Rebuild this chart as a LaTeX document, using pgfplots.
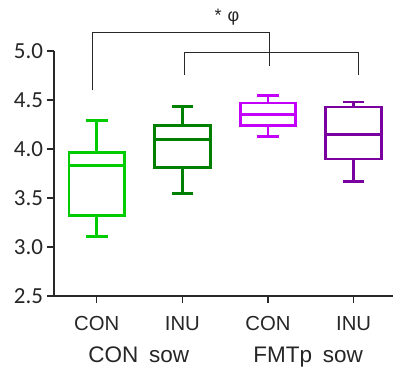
\documentclass[border=0pt]{standalone}
\usepackage{fontspec}
\setmainfont{Carlito}
\newfontfamily\arialf{Liberation Sans}
\usepackage{pgfplots}
\pgfplotsset{compat=1.18}
\definecolor{cLG}{RGB}{0,204,0}
\definecolor{cDG}{RGB}{0,128,0}
\definecolor{cMG}{RGB}{196,0,250}
\definecolor{cPU}{RGB}{122,0,160}
\definecolor{axc}{RGB}{40,40,40}
\begin{document}
\begin{tikzpicture}
\begin{axis}[
  scale only axis,
  width=339pt, height=245pt,
  xmin=-0.5, xmax=3.46,
  ymin=2.5, ymax=5.0,
  axis lines=left,
  axis line style={-, line width=1.3pt, axc},
  tick style={line width=1.3pt, axc},
  tick align=outside,
  major tick length=7pt,
  xtick={0,1,2,3},
  xticklabels={CON,INU,CON,INU},
  ytick={2.5,3.0,3.5,4.0,4.5,5.0},
  yticklabel style={/pgf/number format/fixed, /pgf/number format/fixed zerofill, /pgf/number format/precision=1, /pgf/number format/assume math mode=true, font=\fontsize{23}{27}\selectfont, text=black!85, anchor=east, inner sep=0pt, xshift=-3.7pt},
  xticklabel style={font=\arialf\fontsize{20.3}{24}\selectfont, text=black!85, anchor=base, inner sep=0pt, yshift=-27pt},
  clip=false,
  unbounded coords=jump,
  every axis plot/.append style={line width=2.7pt, line join=miter, line cap=rect, mark=none},
]
% box 1: CON / CON sow  (lw 3.11, q1 3.32, med 3.83, q3 3.965, uw 4.29)
\addplot[cLG] coordinates {(-0.325,3.32)(0.325,3.32)(0.325,3.965)(-0.325,3.965)(-0.325,3.32) (0,nan)
 (-0.325,3.83)(0.325,3.83) (0,nan) (0,3.965)(0,4.29) (0,nan) (-0.11,4.29)(0.11,4.29) (0,nan)
 (0,3.32)(0,3.11) (0,nan) (-0.11,3.11)(0.11,3.11)};
% box 2: INU / CON sow  (lw 3.55, q1 3.81, med 4.10, q3 4.24, uw 4.435)
\addplot[cDG] coordinates {(0.675,3.81)(1.325,3.81)(1.325,4.24)(0.675,4.24)(0.675,3.81) (1,nan)
 (0.675,4.10)(1.325,4.10) (1,nan) (1,4.24)(1,4.435) (1,nan) (0.89,4.435)(1.11,4.435) (1,nan)
 (1,3.81)(1,3.55) (1,nan) (0.89,3.55)(1.11,3.55)};
% box 3: CON / FMTp sow  (lw 4.125, q1 4.24, med 4.35, q3 4.47, uw 4.55)
\addplot[cMG] coordinates {(1.675,4.24)(2.325,4.24)(2.325,4.47)(1.675,4.47)(1.675,4.24) (2,nan)
 (1.675,4.35)(2.325,4.35) (2,nan) (2,4.47)(2,4.55) (2,nan) (1.89,4.55)(2.11,4.55) (2,nan)
 (2,4.24)(2,4.125) (2,nan) (1.89,4.125)(2.11,4.125)};
% box 4: INU / FMTp sow  (lw 3.67, q1 3.90, med 4.15, q3 4.43, uw 4.48)
\addplot[cPU] coordinates {(2.675,3.90)(3.325,3.90)(3.325,4.43)(2.675,4.43)(2.675,3.90) (3,nan)
 (2.675,4.15)(3.325,4.15) (3,nan) (3,4.43)(3,4.48) (3,nan) (2.89,4.48)(3.11,4.48) (3,nan)
 (3,3.90)(3,3.67) (3,nan) (2.89,3.67)(3.11,3.67)};
\draw[line width=1.0pt, axc] (axis cs:-0.05,4.60) |- (axis cs:2.02,5.187) -- (axis cs:2.02,4.85);
\draw[line width=1.0pt, axc] (axis cs:1.02,4.755) |- (axis cs:3.06,4.99) -- (axis cs:3.06,4.755);
\node[font=\arialf\fontsize{18}{21}\selectfont, text=black!85] at (axis cs:1.52,5.35) {*\,\,φ};
\node[font=\arialf\fontsize{22.5}{26}\selectfont, text=black!85, anchor=base, inner sep=0pt] at ([yshift=-66pt]axis cs:0.49,2.5) {CON\hspace{0.2em} sow};
\node[font=\arialf\fontsize{22.5}{26}\selectfont, text=black!85, anchor=base, inner sep=0pt] at ([yshift=-66pt]axis cs:2.47,2.5) {FMTp\hspace{0.2em} sow};
\coordinate (bbl) at (axis cs:-1.13,1.652);
\coordinate (btr) at (axis cs:3.46,5.521);
\end{axis}
\pgfresetboundingbox
\useasboundingbox (bbl) rectangle (btr);
\end{tikzpicture}
\end{document}
